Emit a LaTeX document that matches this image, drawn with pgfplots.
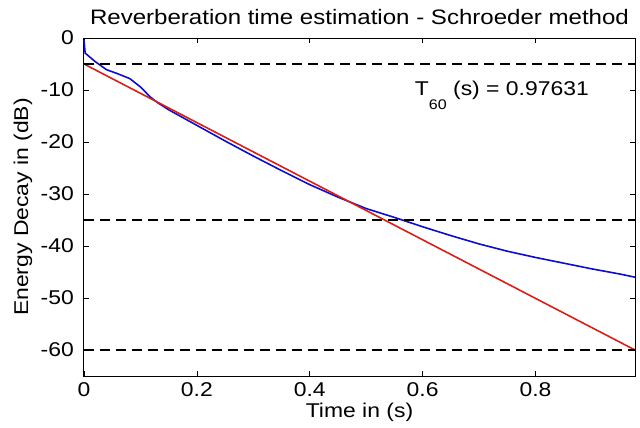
\documentclass[border=0pt]{standalone}
\usepackage{fontspec}
\setmainfont{Liberation Sans}[FakeStretch=1.15]
\usepackage{pgfplots}
\pgfplotsset{compat=1.18}
\definecolor{mblue}{rgb}{0.05,0.05,0.8}
\definecolor{mred}{rgb}{0.85,0.12,0.1}
\begin{document}
\fontsize{20}{24}\selectfont
\begin{tikzpicture}
\useasboundingbox (-84bp,-52bp) rectangle (556bp,376bp);
\begin{axis}[at={(0,0)}, anchor=south west, scale only axis,
  width=551bp, height=338bp,
  xmin=0, xmax=0.97631, ymin=-65, ymax=0,
  xtick={0,0.2,0.4,0.6,0.8}, xticklabels={0,0.2,0.4,0.6,0.8},
  ytick={-60,-50,-40,-30,-20,-10,0}, yticklabels={-60,-50,-40,-30,-20,-10,0},
  tick align=inside, major tick length=5bp,
  tick style={black, line width=0.6bp},
  axis line style={line width=1bp},
  xticklabel style={inner sep=0pt, anchor=base, yshift=-20bp},
  yticklabel style={inner sep=0pt, anchor=east, xshift=-10bp},
  title={Reverberation time estimation - Schroeder method},
  title style={at={(0.5,1.0222)}, anchor=base, inner sep=0pt, font=\fontsize{21}{24}\selectfont},
  xlabel={Time in (s)},
  xlabel style={at={(0.5,-0.1213)}, anchor=base, inner sep=0pt},
  ylabel={Energy Decay in (dB)},
  ylabel style={at={(-0.1016,0.5)}, anchor=base, inner sep=0pt},
  clip=false,
]
\addplot[mblue, line width=1.6bp] coordinates {
(0,-0.4) (0.002,-2.9) (0.02,-4.55) (0.04,-6.1) (0.058,-6.8) (0.081,-7.8)
(0.1,-9.4) (0.117,-11.3) (0.13,-12.4) (0.15,-13.8) (0.2,-16.8) (0.25,-19.8) (0.3,-22.7)
(0.35,-25.5) (0.4,-28.2) (0.45,-30.6) (0.5,-32.8) (0.55,-34.5) (0.6,-36.3)
(0.65,-38.0) (0.7,-39.6) (0.75,-41.0) (0.8,-42.2) (0.85,-43.3) (0.9,-44.4)
(0.95,-45.4) (0.97631,-46.0)
};
\addplot[mred, line width=1.6bp] coordinates {(0,-5) (0.97631,-60)};
\addplot[black, line width=1.5bp, dash pattern=on 10bp off 6bp] coordinates {(0,-5) (0.97631,-5)};
\addplot[black, line width=1.5bp, dash pattern=on 10bp off 6bp] coordinates {(0,-35) (0.97631,-35)};
\addplot[black, line width=1.5bp, dash pattern=on 10bp off 6bp] coordinates {(0,-60) (0.97631,-60)};
\node[anchor=base west, inner sep=0pt] at (axis cs:0.586,-11)
  {T\raisebox{-14bp}{\fontsize{14}{14}\selectfont 60}\ (s) = 0.97631};
\end{axis}
\end{tikzpicture}
\end{document}
